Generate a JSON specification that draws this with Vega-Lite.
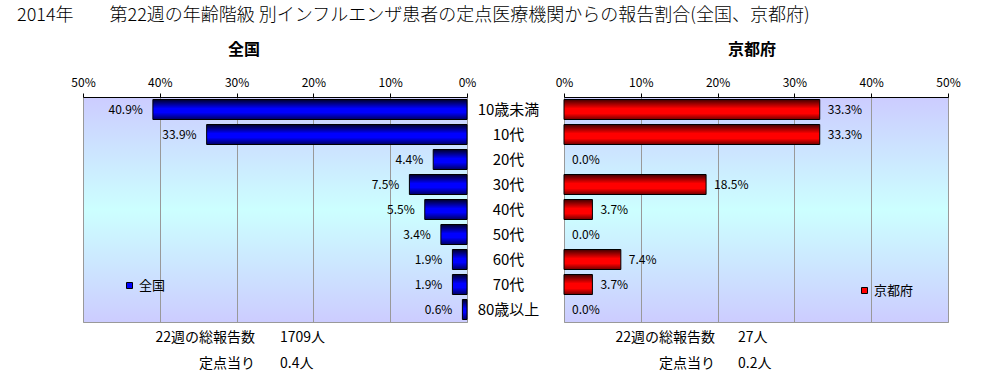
{
  "$schema": "https://vega.github.io/schema/vega-lite/v6.json",
  "background": "white",
  "padding": {"left": 17, "top": 6, "right": 5, "bottom": 0},
  "title": {"text": "2014年　　第22週の年齢階級 別インフルエンザ患者の定点医療機関からの報告割合(全国、京都府)", "anchor": "start", "frame": "group", "fontSize": 18, "fontWeight": 300, "color": "black", "dx": -66, "offset": 17},
  "config": {
    "font": "Noto Sans CJK JP",
    "axis": {"labelColor": "black", "labelFont": "Noto Sans CJK JP"},
    "legend": {"labelFont": "Noto Sans CJK JP"}
  },
  "datasets": {
    "zenkoku": [
      {"cat": "10歳未満", "v": 0.409},
      {"cat": "10代", "v": 0.339},
      {"cat": "20代", "v": 0.044},
      {"cat": "30代", "v": 0.075},
      {"cat": "40代", "v": 0.055},
      {"cat": "50代", "v": 0.034},
      {"cat": "60代", "v": 0.019},
      {"cat": "70代", "v": 0.019},
      {"cat": "80歳以上", "v": 0.006}
    ],
    "kyoto": [
      {"cat": "10歳未満", "v": 0.333},
      {"cat": "10代", "v": 0.333},
      {"cat": "20代", "v": 0.0},
      {"cat": "30代", "v": 0.185},
      {"cat": "40代", "v": 0.037},
      {"cat": "50代", "v": 0.0},
      {"cat": "60代", "v": 0.074},
      {"cat": "70代", "v": 0.037},
      {"cat": "80歳以上", "v": 0.0}
    ],
    "zenkokuFoot": [
      {"line": 1, "label": "22週の総報告数", "value": "1709人"},
      {"line": 2, "label": "定点当り", "value": "0.4人"}
    ],
    "kyotoFoot": [
      {"line": 1, "label": "22週の総報告数", "value": "27人"},
      {"line": 2, "label": "定点当り", "value": "0.2人"}
    ]
  },
  "columns": 2,
  "bounds": "flush",
  "spacing": {"column": 97, "row": 3},
  "resolve": {"scale": {"color": "independent"}, "legend": {"color": "independent"}},
  "concat": [
    {
      "width": 384,
      "height": 225,
      "title": {"text": "全国", "fontSize": 16, "fontWeight": "bold", "anchor": "middle", "frame": "group", "dx": -31, "offset": 18, "color": "black"},
      "view": {"fill": {"gradient": "linear", "x1": 0, "y1": 0, "x2": 0, "y2": 1, "stops": [{"offset": 0, "color": "#ccccff"}, {"offset": 0.5, "color": "#ccffff"}, {"offset": 1, "color": "#ccccff"}]}, "stroke": "#999999"},
      "data": {"name": "zenkoku"},
      "encoding": {
        "y": {"field": "cat", "type": "nominal", "sort": null,
              "scale": {"domain": ["10歳未満", "10代", "20代", "30代", "40代", "50代", "60代", "70代", "80歳以上"], "paddingInner": 0.2, "paddingOuter": 0.1},
              "axis": {"orient": "right", "title": null, "domain": false, "ticks": false, "labelAlign": "center", "labelPadding": 41, "labelFontSize": 15, "labelColor": "black"}},
        "x": {"field": "v", "type": "quantitative", "scale": {"domain": [0, 0.5], "reverse": true},
              "axis": {"orient": "top", "title": null, "format": "%", "values": [0, 0.1, 0.2, 0.3, 0.4, 0.5], "grid": true, "gridColor": "#999999", "domainColor": "black", "tickColor": "black", "tickSize": 4, "labelPadding": 4, "labelFontSize": 12, "labelFlush": false}}
      },
      "layer": [
        {
          "transform": [{"filter": "datum.v > 0"}],
          "mark": {"type": "bar", "stroke": "black", "strokeWidth": 1,
                   "color": {"gradient": "linear", "x1": 0, "y1": 0, "x2": 0, "y2": 1, "stops": [{"offset": 0, "color": "#000028"}, {"offset": 0.45, "color": "#0000ff"}, {"offset": 0.65, "color": "#0000ff"}, {"offset": 1, "color": "#000060"}]}}
        },
        {
          "mark": {"type": "text", "align": "right", "baseline": "middle", "dx": -10, "fontSize": 12, "color": "black"},
          "encoding": {"text": {"field": "v", "type": "quantitative", "format": ".1%"}}
        },
        {
          "mark": {"type": "point", "shape": "square", "filled": true, "opacity": 0, "stroke": "black"},
          "encoding": {
            "color": {"datum": "全国", "scale": {"range": ["#0000ff"]},
                      "legend": {"orient": "none", "legendX": 40, "legendY": 182, "title": null, "symbolType": "square", "symbolSize": 36, "symbolStrokeColor": "black", "symbolStrokeWidth": 1, "symbolOpacity": 1, "labelFontSize": 13, "labelOffset": 3, "padding": 0, "labelColor": "black"}}
          }
        }
      ]
    },
    {
      "width": 384,
      "height": 225,
      "title": {"text": "京都府", "fontSize": 16, "fontWeight": "bold", "anchor": "middle", "frame": "group", "dx": -4, "offset": 18, "color": "black"},
      "view": {"fill": {"gradient": "linear", "x1": 0, "y1": 0, "x2": 0, "y2": 1, "stops": [{"offset": 0, "color": "#ccccff"}, {"offset": 0.5, "color": "#ccffff"}, {"offset": 1, "color": "#ccccff"}]}, "stroke": "#999999"},
      "data": {"name": "kyoto"},
      "encoding": {
        "y": {"field": "cat", "type": "nominal", "sort": null,
              "scale": {"domain": ["10歳未満", "10代", "20代", "30代", "40代", "50代", "60代", "70代", "80歳以上"], "paddingInner": 0.2, "paddingOuter": 0.1},
              "axis": null},
        "x": {"field": "v", "type": "quantitative", "scale": {"domain": [0, 0.5]},
              "axis": {"orient": "top", "title": null, "format": "%", "values": [0, 0.1, 0.2, 0.3, 0.4, 0.5], "grid": true, "gridColor": "#999999", "domainColor": "black", "tickColor": "black", "tickSize": 4, "labelPadding": 4, "labelFontSize": 12, "labelFlush": false}}
      },
      "layer": [
        {
          "transform": [{"filter": "datum.v > 0"}],
          "mark": {"type": "bar", "stroke": "black", "strokeWidth": 1,
                   "color": {"gradient": "linear", "x1": 0, "y1": 0, "x2": 0, "y2": 1, "stops": [{"offset": 0, "color": "#400000"}, {"offset": 0.45, "color": "#ff0000"}, {"offset": 0.7, "color": "#ff0000"}, {"offset": 1, "color": "#700000"}]}}
        },
        {
          "mark": {"type": "text", "align": "left", "baseline": "middle", "dx": 8, "fontSize": 12, "color": "black"},
          "encoding": {"text": {"field": "v", "type": "quantitative", "format": ".1%"}}
        },
        {
          "mark": {"type": "point", "shape": "square", "filled": true, "opacity": 0, "stroke": "black"},
          "encoding": {
            "color": {"datum": "京都府", "scale": {"range": ["#ff0000"]},
                      "legend": {"orient": "none", "legendX": 294, "legendY": 187, "title": null, "symbolType": "square", "symbolSize": 36, "symbolStrokeColor": "black", "symbolStrokeWidth": 1, "symbolOpacity": 1, "labelFontSize": 13, "labelOffset": 3, "padding": 0, "labelColor": "black"}}
          }
        }
      ]
    },
    {
      "width": 384,
      "height": 52,
      "view": {"stroke": null},
      "data": {"name": "zenkokuFoot"},
      "encoding": {"y": {"field": "line", "type": "ordinal", "axis": null}},
      "layer": [
        {
          "mark": {"type": "text", "align": "right", "baseline": "middle", "fontSize": 14, "color": "black"},
          "encoding": {"x": {"datum": 0.276, "type": "quantitative", "scale": {"domain": [0, 0.5], "reverse": true}, "axis": null}, "text": {"field": "label"}}
        },
        {
          "mark": {"type": "text", "align": "left", "baseline": "middle", "fontSize": 14, "color": "black"},
          "encoding": {"x": {"datum": 0.2435, "type": "quantitative", "scale": {"domain": [0, 0.5], "reverse": true}, "axis": null}, "text": {"field": "value"}}
        }
      ]
    },
    {
      "width": 384,
      "height": 52,
      "view": {"stroke": null},
      "data": {"name": "kyotoFoot"},
      "encoding": {"y": {"field": "line", "type": "ordinal", "axis": null}},
      "layer": [
        {
          "mark": {"type": "text", "align": "right", "baseline": "middle", "fontSize": 14, "color": "black"},
          "encoding": {"x": {"datum": 0.1966, "type": "quantitative", "scale": {"domain": [0, 0.5]}, "axis": null}, "text": {"field": "label"}}
        },
        {
          "mark": {"type": "text", "align": "left", "baseline": "middle", "fontSize": 14, "color": "black"},
          "encoding": {"x": {"datum": 0.2266, "type": "quantitative", "scale": {"domain": [0, 0.5]}, "axis": null}, "text": {"field": "value"}}
        }
      ]
    }
  ]
}
